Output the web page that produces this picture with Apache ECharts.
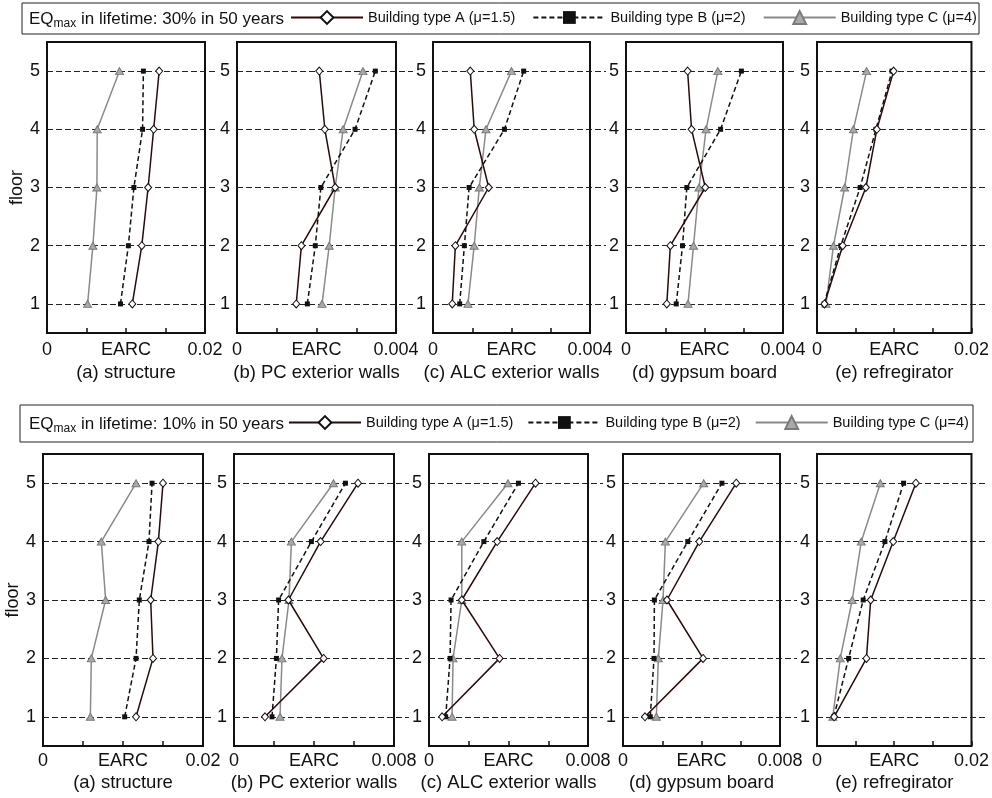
<!DOCTYPE html>
<html>
<head>
<meta charset="utf-8">
<script src="https://cdn.jsdelivr.net/npm/echarts@6/dist/echarts.min.js"></script>
<style>html,body{margin:0;padding:0;background:#fff}#chart{width:992px;height:798px}</style>
</head>
<body>
<div id="chart"></div>
<script>
var floors = [1, 2, 3, 4, 5];
var typeNames = ['Building type A (μ=1.5)', 'Building type B (μ=2)', 'Building type C (μ=4)'];
var panelTitles = ['(a) structure', '(b) PC exterior walls', '(c) ALC exterior walls', '(d) gypsum board', '(e) refregirator'];
var rowLabels = ['30%', '10%'];
var xMaxTop = [0.02, 0.004, 0.004, 0.004, 0.02];
var xMaxBottom = [0.02, 0.008, 0.008, 0.008, 0.02];

// EARC per floor (1..5), one list per panel (a)..(e) -- 30% in 50 years
var topA = [
    [0.0108, 0.0120, 0.0128, 0.0135, 0.0142],
    [0.00149, 0.00162, 0.00247, 0.00221, 0.00207],
    [0.00049, 0.00057, 0.00142, 0.00105, 0.00095],
    [0.00104, 0.00113, 0.00202, 0.00167, 0.00157],
    [0.00096, 0.00333, 0.00633, 0.00775, 0.00992]
];
var topB = [
    [0.0093, 0.0103, 0.0110, 0.0121, 0.0122],
    [0.00177, 0.00197, 0.00211, 0.00297, 0.00348],
    [0.00068, 0.00080, 0.00092, 0.00182, 0.00231],
    [0.00128, 0.00144, 0.00155, 0.00241, 0.00294],
    [0.00092, 0.00308, 0.00558, 0.00763, 0.00971]
];
var topC = [
    [0.00514, 0.00581, 0.00632, 0.00636, 0.00918],
    [0.00214, 0.00232, 0.00247, 0.00267, 0.00317],
    [0.00089, 0.00105, 0.00118, 0.00135, 0.00200],
    [0.00158, 0.00172, 0.00186, 0.00204, 0.00234],
    [0.00117, 0.00213, 0.00358, 0.00471, 0.00642]
];
// 10% in 50 years
var botA = [
    [0.01163, 0.01375, 0.01346, 0.01442, 0.0150],
    [0.00155, 0.00448, 0.00272, 0.00433, 0.00620],
    [0.00066, 0.00355, 0.00165, 0.00343, 0.00536],
    [0.00112, 0.00408, 0.00224, 0.00389, 0.00577],
    [0.00222, 0.00640, 0.00695, 0.00987, 0.0128]
];
var botB = [
    [0.01021, 0.01163, 0.01204, 0.01325, 0.01363],
    [0.00190, 0.00212, 0.00223, 0.00387, 0.00557],
    [0.00084, 0.00106, 0.00111, 0.00276, 0.00450],
    [0.00139, 0.00158, 0.00160, 0.00330, 0.00504],
    [0.00218, 0.00410, 0.00598, 0.00879, 0.01121]
];
var botC = [
    [0.00592, 0.00604, 0.00783, 0.00729, 0.01163],
    [0.00230, 0.00240, 0.00275, 0.00287, 0.00497],
    [0.00116, 0.00121, 0.00165, 0.00165, 0.00397],
    [0.00170, 0.00180, 0.00204, 0.00216, 0.00411],
    [0.00205, 0.00301, 0.00456, 0.00573, 0.00820]
];

var FONT = 'Liberation Sans, Arial, sans-serif';
var TXT = '#111';

// layout of the two rows
var rows = [
    { data: [topA, topB, topC], xMax: xMaxTop,
      lefts: [47, 237, 433, 626, 817], rights: [205, 396, 590, 783, 977], extEnd: [217, 413, 606, 797, 988],
      top: 42, bottom: 333, labelMargin: 8, nameGap: 30, legendTop: 10, legendLeft: 290, legendGap: 17, titleTop: 8,
      box: [22, 3, 957, 31] },
    { data: [botA, botB, botC], xMax: xMaxBottom,
      lefts: [43, 234, 429, 623, 817], rights: [203, 394, 588, 780, 976], extEnd: [214, 409, 603, 797, 988],
      top: 454, bottom: 746, labelMargin: 6, nameGap: 27, legendTop: 415, legendLeft: 288, legendGap: 14, titleTop: 413,
      box: [20, 405, 953, 37] }
];

var typeStyles = [
    { symbol: 'diamond', symbolSize: [7, 8], line: { color: '#2b0a0a', width: 1.5, type: 'solid' },
      item: { color: '#fff', borderColor: '#111', borderWidth: 1 } },
    { symbol: 'rect', symbolSize: 5, line: { color: '#111', width: 1.5, type: [5, 3] },
      item: { color: '#111', borderColor: '#111', borderWidth: 0 } },
    { symbol: 'triangle', symbolSize: [8, 7], line: { color: '#8a8a8a', width: 1.5, type: 'solid' },
      item: { color: '#a9a9a9', borderColor: '#7a7a7a', borderWidth: 1 } }
];

var grid = [], xAxis = [], yAxis = [], series = [], legend = [], title = [], graphic = [];

rows.forEach(function (row, r) {
    graphic.push({
        type: 'rect', shape: { x: row.box[0], y: row.box[1], width: row.box[2], height: row.box[3] },
        style: { fill: 'none', stroke: '#222', lineWidth: 1 }
    });
    title.push({
        text: '{a|EQ}{s|max}{a| in lifetime: ' + rowLabels[r] + ' in 50 years}',
        left: 29, top: row.titleTop, padding: 0,
        textStyle: {
            fontWeight: 'normal',
            rich: {
                a: { fontSize: 17, lineHeight: 22, fontWeight: 'normal', color: TXT, fontFamily: FONT },
                s: { fontSize: 12, lineHeight: 12, verticalAlign: 'bottom', fontWeight: 'normal', color: TXT, fontFamily: FONT }
            }
        }
    });
    legend.push({
        data: typeNames, left: row.legendLeft, top: row.legendTop, padding: 0,
        itemWidth: 72, itemHeight: 16, itemGap: row.legendGap,
        textStyle: { fontSize: 14.5, color: TXT, fontFamily: FONT }
    });

    for (var p = 0; p < 5; p++) {
        var gi = grid.length;
        var xMax = row.xMax[p];
        // plot box
        grid.push({
            left: row.lefts[p], top: row.top, width: row.rights[p] - row.lefts[p], height: row.bottom - row.top,
            show: true, borderColor: '#111', borderWidth: 2, backgroundColor: 'transparent'
        });
        // dashed floor lines, running past the box to the right
        grid.push({
            left: row.lefts[p], top: row.top, width: row.extEnd[p] - row.lefts[p], height: row.bottom - row.top,
            show: false
        });
        xAxis.push({
            gridIndex: gi, type: 'value', min: 0, max: xMax, interval: xMax / 4,
            axisLine: { show: false },
            axisTick: { show: true, inside: true, length: 5, lineStyle: { color: '#111', width: 1.5 } },
            splitLine: { show: false },
            axisLabel: {
                show: true, fontSize: 18, color: TXT, fontFamily: FONT, margin: row.labelMargin,
                formatter: function (v, i) {
                    if (i === 0) return '0';
                    if (i === 2) return 'EARC';
                    if (i === 4) return String(v);
                    return '';
                }
            },
            name: panelTitles[p], nameLocation: 'middle', nameGap: row.nameGap,
            nameTextStyle: { fontSize: 18.5, color: TXT, fontFamily: FONT }
        });
        xAxis.push({ gridIndex: gi + 1, type: 'value', min: 0, max: 1, show: false });
        yAxis.push({
            gridIndex: gi, type: 'value', min: 0.5, max: 5.5, splitNumber: 5, minInterval: 1, maxInterval: 1,
            axisLine: { show: false }, axisTick: { show: false }, splitLine: { show: false },
            axisLabel: {
                fontSize: 18, color: TXT, fontFamily: FONT, margin: 7,
                formatter: function (v) { return Number.isInteger(v) ? String(v) : ''; }
            },
            name: p === 0 ? 'floor' : '', nameLocation: 'middle', nameGap: 18,
            nameTextStyle: { fontSize: 18, color: TXT, fontFamily: FONT }
        });
        yAxis.push({
            gridIndex: gi + 1, type: 'value', min: 0.5, max: 5.5, splitNumber: 5, minInterval: 1, maxInterval: 1,
            axisLine: { show: false }, axisTick: { show: false }, axisLabel: { show: false },
            splitLine: {
                show: true, showMinLine: false, showMaxLine: false,
                lineStyle: { type: [6, 3], color: '#222', width: 1 }
            }
        });

        for (var t = 0; t < 3; t++) {
            var vals = row.data[t][p];
            var st = typeStyles[t];
            series.push({
                type: 'line', name: typeNames[t], xAxisIndex: gi, yAxisIndex: gi,
                data: floors.map(function (f, i) { return [vals[i], f]; }),
                symbol: st.symbol, symbolSize: st.symbolSize, showAllSymbol: true,
                lineStyle: st.line, itemStyle: st.item,
                z: 3 - t + 2, animation: false, silent: true
            });
        }
    }
});

var chart = echarts.init(document.getElementById('chart'));
chart.setOption({
    backgroundColor: '#fff',
    animation: false,
    title: title,
    legend: legend,
    grid: grid,
    xAxis: xAxis,
    yAxis: yAxis,
    series: series,
    graphic: graphic
});
</script>
</body>
</html>
